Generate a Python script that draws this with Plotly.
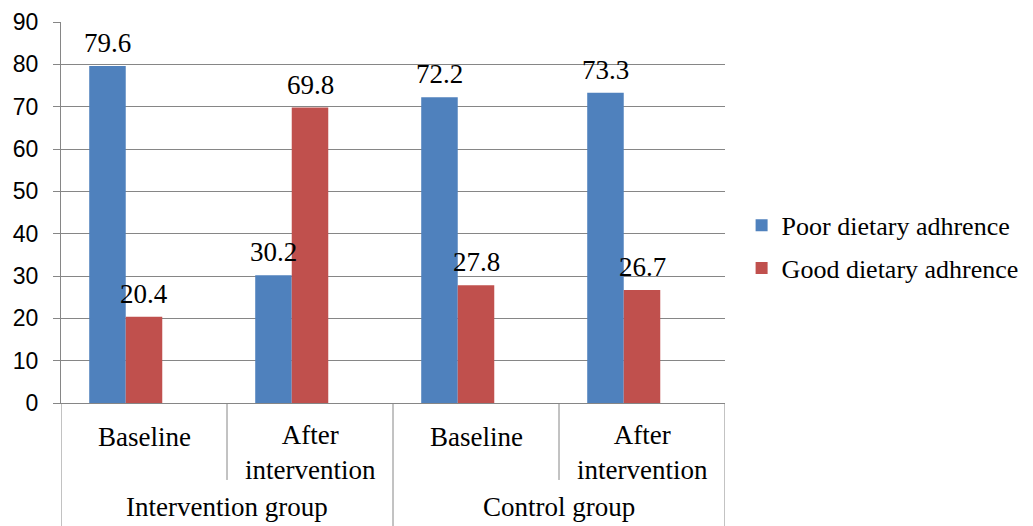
import plotly.graph_objects as go

groups = ["Intervention group", "Control group"]
subcats = ["Baseline", "After<br>intervention", "Baseline", "After<br>intervention"]
group_of_sub = [0, 0, 1, 1]
poor = [79.6, 30.2, 72.2, 73.3]
good = [20.4, 69.8, 27.8, 26.7]
series_names = ["Poor dietary adhrence", "Good dietary adhrence"]
yticks = [0, 10, 20, 30, 40, 50, 60, 70, 80, 90]

BLUE = "#4F81BD"
RED = "#C0504D"
GRID = "#868686"
SERIF = "Liberation Serif, Times New Roman, serif"
SANS = "Liberation Sans, Arial, sans-serif"

BAR_W = 0.22
OFFSETS = [-0.33, -0.11]

xc = [i + 0.5 for i in range(len(subcats))]

fig = go.Figure()
annotations = []
for k, (vals, name, col) in enumerate(zip([poor, good], series_names, [BLUE, RED])):
    fig.add_trace(go.Bar(
        x=xc, y=vals, name=name, marker_color=col, marker_line_width=0,
        width=BAR_W, offset=OFFSETS[k], legendgroup=f"g{k}",
    ))
    for i, v in enumerate(vals):
        annotations.append(dict(
            x=xc[i] + OFFSETS[k] + BAR_W / 2, xref="x", y=v, yref="y",
            text=f"{v:.1f}", showarrow=False, yanchor="bottom", yshift=6,
            font=dict(family=SERIF, size=27, color="#000000")))

shapes = []
n = len(subcats)
for i in range(n + 1):
    is_group_edge = (i == 0 or i == n or group_of_sub[i - 1] != group_of_sub[i])
    shapes.append(dict(type="line", xref="x", yref="paper", x0=i, x1=i,
                       y0=0, y1=-0.33 if is_group_edge else -0.202,
                       line=dict(color=GRID, width=1)))
for i, lab in enumerate(subcats):
    two = "<br>" in lab
    annotations.append(dict(x=xc[i], xref="x", y=0, yref="paper", text=lab,
                            showarrow=False, yanchor="middle",
                            yshift=-49 if two else -34,
                            font=dict(family=SERIF, size=27, color="#000000")))
for g, gname in enumerate(groups):
    idx = [i for i in range(n) if group_of_sub[i] == g]
    cx = (min(idx) + max(idx) + 1) / 2
    annotations.append(dict(x=cx, xref="x", y=0, yref="paper", text=gname,
                            showarrow=False, yanchor="middle", yshift=-104,
                            font=dict(family=SERIF, size=27, color="#000000")))

fig.update_layout(
    width=1033, height=526,
    margin=dict(l=61, r=308, t=22, b=123, autoexpand=False),
    paper_bgcolor="white", plot_bgcolor="white",
    barmode="overlay",
    showlegend=True,
    legend=dict(x=1.025, xanchor="left", y=0.41, yanchor="middle",
                font=dict(family=SERIF, size=26, color="#000000"),
                tracegroupgap=6, itemwidth=30, bgcolor="rgba(0,0,0,0)"),
    shapes=shapes,
    annotations=annotations,
)
fig.update_xaxes(range=[0, n], showticklabels=False, showgrid=False,
                 zeroline=False, showline=True, linecolor=GRID, linewidth=1,
                 ticks="", fixedrange=True)
fig.update_yaxes(range=[0, 90], tickvals=yticks, showgrid=True, gridcolor=GRID,
                 gridwidth=1, zeroline=False, showline=True, linecolor=GRID,
                 linewidth=1, ticks="outside", ticklen=7, tickcolor=GRID,
                 tickfont=dict(family=SANS, size=23, color="#000000"),
                 ticklabelstandoff=10)

fig.write_html("out.html", config={"displayModeBar": False},
               post_script="document.body.style.margin='0';document.body.style.overflow='hidden';")
